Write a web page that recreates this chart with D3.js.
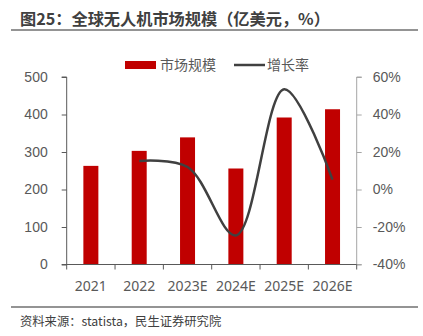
<!DOCTYPE html>
<html><head><meta charset="utf-8">
<script src="https://cdnjs.cloudflare.com/ajax/libs/d3/7.8.5/d3.min.js"></script>
<style>
body{margin:0;background:#fff;}
svg{display:block;font-family:"Noto Sans","Noto Sans CJK SC",sans-serif;}
</style></head>
<body>
<script>
const categories = ["2021","2022","2023E","2024E","2025E","2026E"];
const marketSize = [263, 303, 339, 256, 392, 414];
const growth = [null, 15.2, 12.0, -24.5, 53.5, 5.3];
const leftTicks = [0,100,200,300,400,500];
const rightTicks = [-40,-20,0,20,40,60];
const title = "图25：全球无人机市场规模（亿美元，%）";
const source = "资料来源：statista，民生证券研究院";
const legendLabels = ["市场规模","增长率"];

const W = 423, H = 336;
const svg = d3.select("body").append("svg").attr("width",W).attr("height",H);
const pL = 66.7, pR = 356.7, pT = 77, pB = 264.5;

svg.append("text").attr("x",20).attr("y",25).attr("font-size",16.2).attr("font-weight","bold")
  .attr("fill","#404040").attr("font-family","'Noto Sans CJK SC',sans-serif").text(title);
svg.append("line").attr("x1",11).attr("x2",418).attr("y1",30).attr("y2",30)
  .attr("stroke","#707070").attr("stroke-width",1.5);

const x = d3.scaleBand().domain(categories).range([pL,pR]).padding(0);
const yL = d3.scaleLinear().domain([0,500]).range([pB,pT]);
const yR = d3.scaleLinear().domain([-40,60]).range([pB,pT]);

// bars
svg.append("g").selectAll("rect").data(categories).join("rect")
  .attr("x",(d)=>x(d)+x.bandwidth()/2-7.5)
  .attr("width",15)
  .attr("y",(d,i)=>yL(marketSize[i]))
  .attr("height",(d,i)=>pB-yL(marketSize[i]))
  .attr("fill","#C00000");

// line
const pts = categories.map((c,i)=>({c, v:growth[i]})).filter(p=>p.v!==null);
const line = d3.line().x(p=>x(p.c)+x.bandwidth()/2).y(p=>yR(p.v)).curve(d3.curveCatmullRom.alpha(0.5));
svg.append("path").attr("d",line(pts)).attr("fill","none").attr("stroke","#404040").attr("stroke-width",2.5);

// left axis
const gL = svg.append("g").attr("transform",`translate(${pL},0)`)
  .call(d3.axisLeft(yL).tickValues(leftTicks).tickSize(5).tickPadding(14));
gL.select(".domain").attr("stroke","#595959").attr("d",`M-5,${pT}H0V${pB}`);
gL.selectAll(".tick line").attr("stroke","#595959");
gL.selectAll("text").attr("font-size",14).attr("fill","#595959");

// right axis
const gR = svg.append("g").attr("transform",`translate(${pR},0)`)
  .call(d3.axisRight(yR).tickValues(rightTicks).tickSize(5).tickPadding(11).tickFormat(d=>d+"%"));
gR.select(".domain").attr("stroke","#a6a6a6").attr("d",`M5,${pT}H0V${pB}H5`);
gR.selectAll(".tick line").attr("stroke","#a6a6a6");
gR.selectAll("text").attr("font-size",14).attr("fill","#595959");

// bottom axis
const gB = svg.append("g").attr("transform",`translate(0,${pB})`);
gB.append("line").attr("x1",pL-5).attr("x2",pR).attr("y1",0).attr("y2",0).attr("stroke","#595959");
const bounds = d3.range(categories.length+1).map(i=>pL+i*x.bandwidth());
gB.selectAll(".bt").data(bounds).join("line").attr("class","bt").attr("x1",d=>d).attr("x2",d=>d).attr("y1",0).attr("y2",5).attr("stroke","#595959");
gB.selectAll(".bl").data(categories).join("text").attr("class","bl")
  .attr("x",d=>x(d)+x.bandwidth()/2).attr("y",26).attr("text-anchor","middle")
  .attr("font-size",14).attr("fill","#595959").text(d=>d);

// legend
svg.append("rect").attr("x",125).attr("y",61).attr("width",31).attr("height",8).attr("fill","#C00000");
svg.append("text").attr("x",160).attr("y",70).attr("font-size",14).attr("fill","#595959")
  .attr("font-family","'Noto Sans CJK SC',sans-serif").text(legendLabels[0]);
svg.append("line").attr("x1",234).attr("x2",265).attr("y1",65).attr("y2",65).attr("stroke","#404040").attr("stroke-width",2.5);
svg.append("text").attr("x",267).attr("y",70).attr("font-size",14).attr("fill","#595959")
  .attr("font-family","'Noto Sans CJK SC',sans-serif").text(legendLabels[1]);

// source
svg.append("line").attr("x1",11).attr("x2",418).attr("y1",307).attr("y2",307).attr("stroke","#707070").attr("stroke-width",1.5);
svg.append("text").attr("x",20).attr("y",326).attr("font-size",12.3).attr("fill","#404040")
  .attr("font-family","'Noto Sans CJK SC',sans-serif").text(source);
</script>
</body></html>
